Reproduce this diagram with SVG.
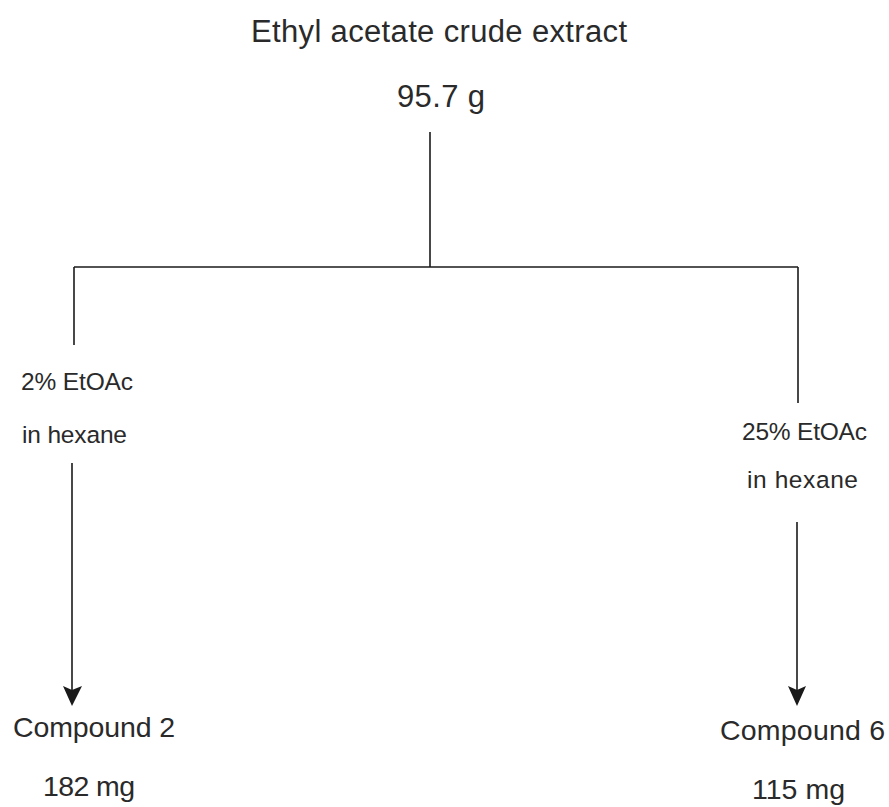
<svg xmlns="http://www.w3.org/2000/svg" width="889" height="807" viewBox="0 0 889 807">
<style>
text{font-family:"Liberation Sans",Arial,sans-serif;fill:#2a2a2a}
.big{font-size:31px}
.sm{font-size:24.5px}
.md{font-size:28.5px}
.ln{stroke:#1a1a1a;stroke-width:1.6;fill:none}
.ah{fill:#1a1a1a}
</style>
<rect width="889" height="807" fill="#fff"/>
<g id="connectors">
<line class="ln" x1="430" y1="132" x2="430" y2="267"/>
<line class="ln" x1="74" y1="267" x2="798" y2="267"/>
<line class="ln" x1="74" y1="267" x2="74" y2="345"/>
<line class="ln" x1="798" y1="267" x2="798" y2="403"/>
<line class="ln" x1="72" y1="463" x2="72" y2="700"/>
<polygon class="ah" points="63,686 72,690 82,686 72,706"/>
<line class="ln" x1="797" y1="522" x2="797" y2="700"/>
<polygon class="ah" points="788,686 797,690 806,686 797,706"/>
</g>
<g id="root">
<text class="big" x="251" y="42" textLength="376">Ethyl acetate crude extract</text>
<text class="big" x="397" y="107" textLength="88">95.7 g</text>
</g>
<g id="label-left">
<text class="sm" x="21" y="390" textLength="112">2% EtOAc</text>
<text class="sm" x="22" y="443" textLength="105">in hexane</text>
</g>
<g id="label-right">
<text class="sm" x="742" y="440" textLength="125">25% EtOAc</text>
<text class="sm" x="747" y="488" textLength="111">in hexane</text>
</g>
<g id="compound2">
<text class="md" x="13" y="737" textLength="162">Compound 2</text>
<text class="md" x="43" y="796" textLength="92">182 mg</text>
</g>
<g id="compound6">
<text class="md" x="720" y="740" textLength="165">Compound 6</text>
<text class="md" x="752" y="799" textLength="93">115 mg</text>
</g>
</svg>
